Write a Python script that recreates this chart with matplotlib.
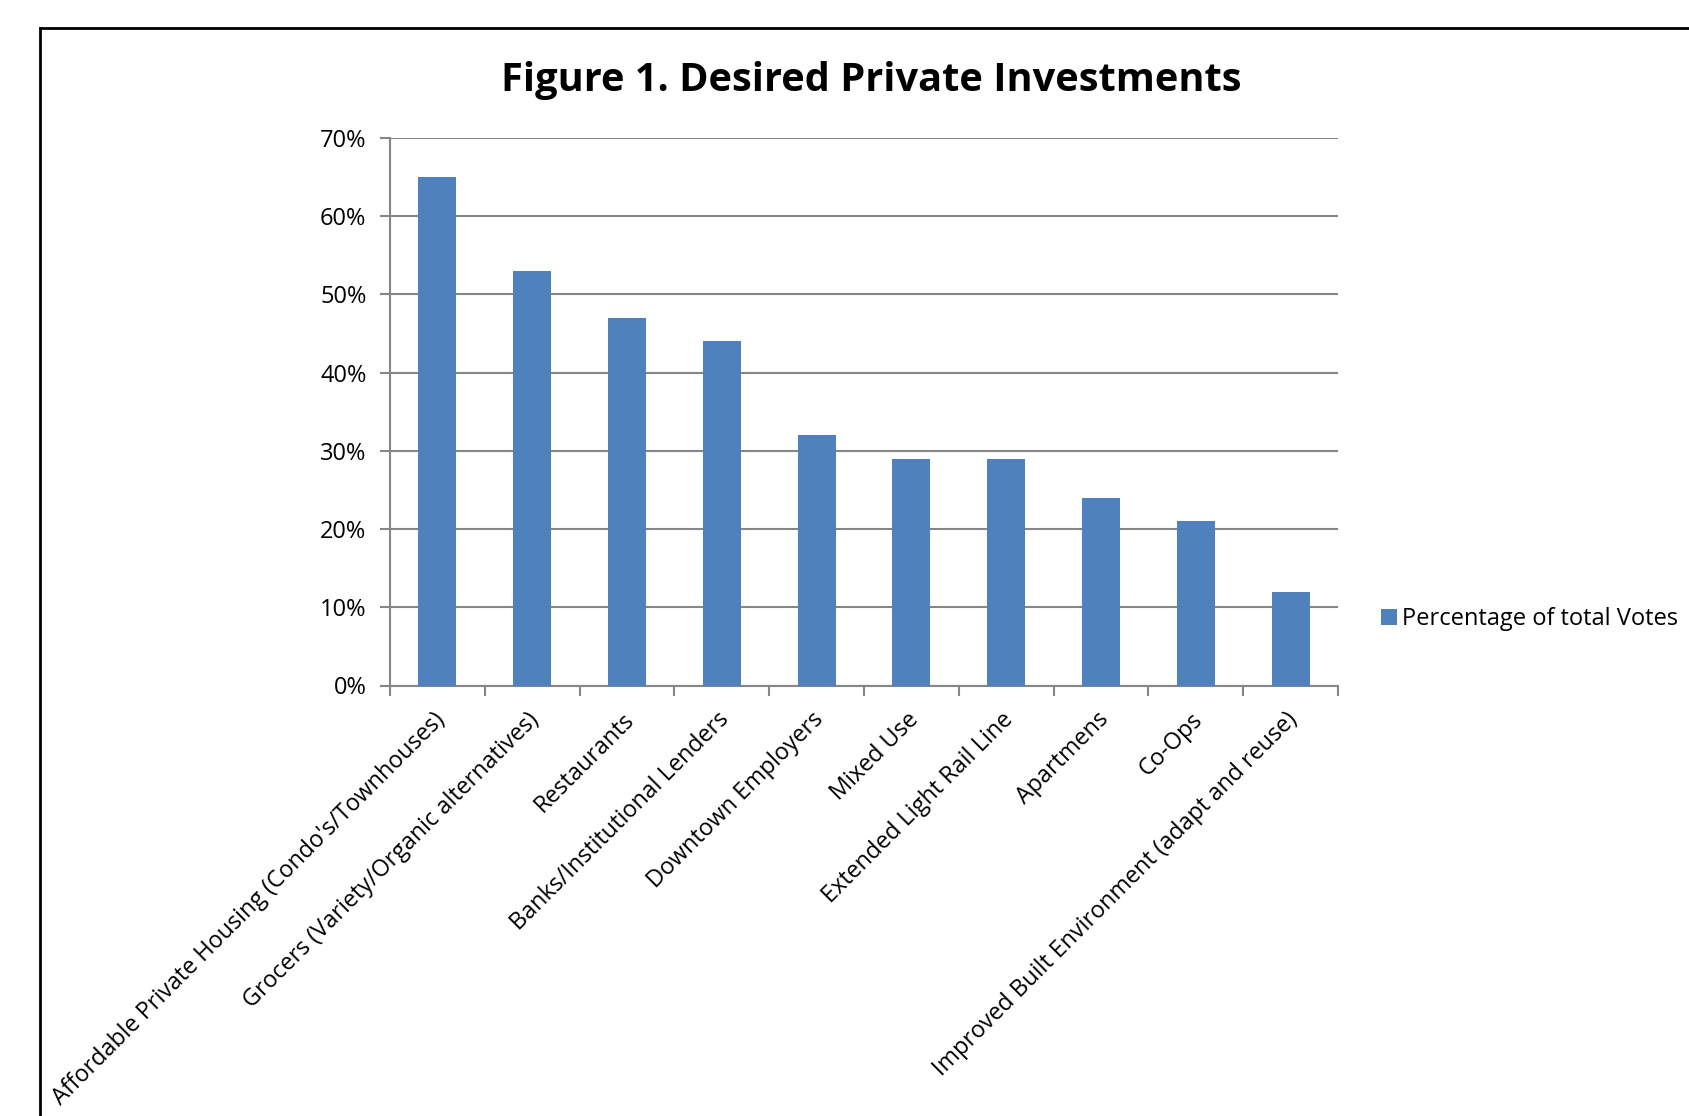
import numpy as np
import matplotlib.pyplot as plt
from matplotlib.lines import Line2D
from matplotlib.ticker import FuncFormatter

plt.rcParams['font.family'] = ['Open Sans', 'DejaVu Sans']

# Data
categories = ["Affordable Private Housing (Condo's/Townhouses)",
              "Grocers (Variety/Organic alternatives)",
              "Restaurants",
              "Banks/Institutional Lenders",
              "Downtown Employers",
              "Mixed Use",
              "Extended Light Rail Line",
              "Apartmens",
              "Co-Ops",
              "Improved Built Environment (adapt and reuse)"]
votes = [0.65, 0.53, 0.47, 0.44, 0.32, 0.29, 0.29, 0.24, 0.21, 0.12]
series_name = "Percentage of total Votes"

W, H = 1690, 1116
fig = plt.figure(figsize=(16.9, 11.16), dpi=100)
ax = fig.add_axes([390 / W, 1 - 685.5 / H, (1338 - 390) / W, (685.5 - 138) / H])

x = np.arange(len(categories))
bars = ax.bar(x, votes, width=0.4, color='#4F81BD', label=series_name, zorder=3)

ax.set_xlim(-0.5, len(categories) - 0.5)
ax.set_ylim(0, 0.70)
ax.set_yticks(np.arange(0, 0.71, 0.1))
ax.yaxis.set_major_formatter(FuncFormatter(lambda v, p: f"{v*100:.0f}%"))
ax.grid(axis='y', color='#868686', linewidth=1.5, zorder=0)

# category boundary ticks on x axis
ax.set_xticks(np.arange(-0.5, len(categories) + 0.5, 1))
ax.set_xticklabels([])
ax.tick_params(axis='x', length=7, width=1.5, color='#868686', direction='out')
ax.tick_params(axis='y', length=7, width=1.5, color='#868686', direction='out',
               labelsize=17, pad=10)
ax.set_xticks(x - 0.05, minor=True)
ax.set_xticklabels(categories, minor=True, rotation=45, ha='right',
                   rotation_mode='anchor', fontsize=16.8)
ax.tick_params(axis='x', which='minor', length=0, pad=16)

for side in ['top', 'right']:
    ax.spines[side].set_visible(False)
for side in ['left', 'bottom']:
    ax.spines[side].set_color('#868686')
    ax.spines[side].set_linewidth(1.5)

fig.text(871 / W, 1 - 81 / H, "Figure 1. Desired Private Investments",
         ha='center', va='center', fontsize=28.6, fontweight='bold')

fig.legend(handles=[bars], labels=[series_name], loc='center left',
           bbox_to_anchor=(1360 / W, 1 - 619 / H), frameon=False,
           fontsize=17, handlelength=0.65, handleheight=0.65, handletextpad=0.25)

# outer border (top and left visible)
fig.add_artist(Line2D([40 / W, 40 / W], [0, 1 - 28 / H], color='black', lw=2,
                      transform=fig.transFigure))
fig.add_artist(Line2D([40 / W, 1], [1 - 28 / H, 1 - 28 / H], color='black', lw=2,
                      transform=fig.transFigure))

fig.savefig("out.png", dpi=100)
